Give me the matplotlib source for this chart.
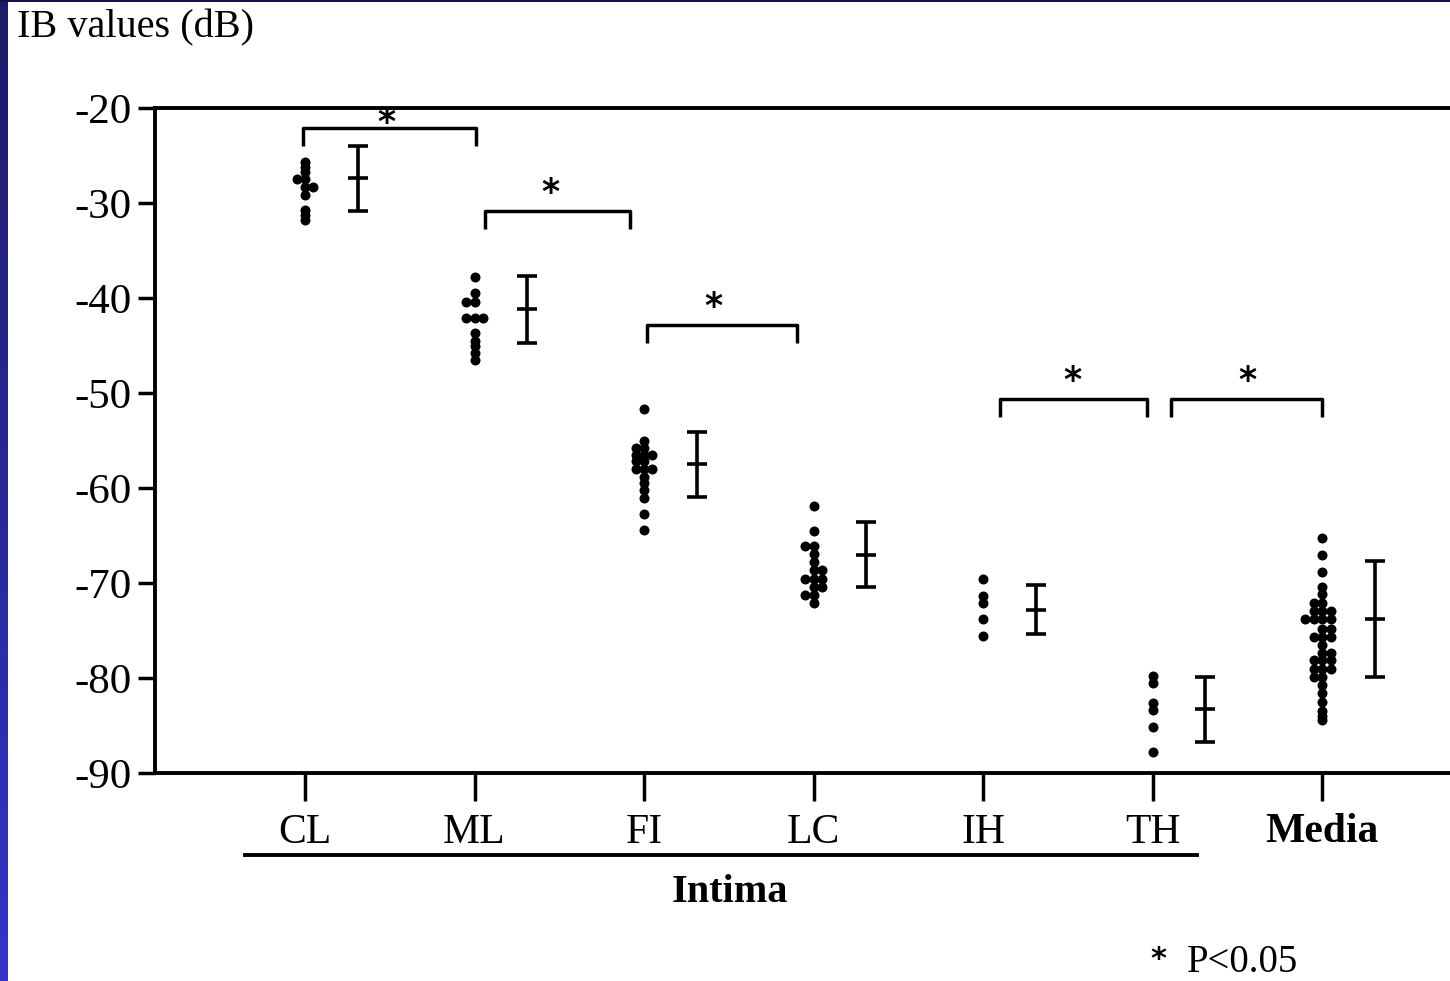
import numpy as np
import matplotlib.pyplot as plt
from matplotlib.colors import LinearSegmentedColormap
from matplotlib.transforms import ScaledTranslation

plt.rcParams['font.family'] = ['Liberation Serif', 'DejaVu Serif']
plt.rcParams['axes.unicode_minus'] = False

# === DATA ===
groups = ["CL", "ML", "FI", "LC", "IH", "TH", "Media"]

cl_vals = [-25.7, -26.2, -26.7, -27.5, -27.5, -28.3, -28.3, -29.2, -30.7, -31.3, -31.8]
ml_vals = [-37.8, -39.5, -40.4, -40.4, -42.1, -42.1, -42.1, -43.7, -44.5, -45.1, -45.8, -46.5]
fi_vals = [-51.7, -55.0, -55.8, -55.8, -56.5, -56.5, -56.5, -57.2, -57.2, -58.0, -58.0, -58.0,
           -58.8, -59.5, -60.2, -61.0, -62.7, -64.4]
lc_vals = [-61.9, -64.5, -66.1, -66.1, -66.9, -67.8, -68.6, -68.6, -69.6, -69.6, -69.6,
           -70.4, -70.4, -71.3, -71.3, -72.1]
ih_vals = [-69.6, -71.4, -72.1, -73.8, -75.6]
th_vals = [-79.8, -80.5, -82.6, -83.4, -85.2, -87.8]
media_vals = [-65.3, -67.0, -68.8, -70.4, -71.2, -72.1, -72.1, -72.9, -72.9, -72.9,
              -73.8, -73.8, -73.8, -73.8, -74.8, -74.8, -75.7, -75.7, -75.7, -76.5,
              -77.4, -77.4, -78.1, -78.1, -78.1, -79.0, -79.0, -79.0, -79.9, -79.9,
              -80.7, -81.6, -82.5, -83.5, -84.0, -84.4]

group_means = [-27.4, -41.2, -57.5, -67.0, -72.8, -83.3, -73.8]
group_sds = [3.4, 3.5, 3.4, 3.4, 2.6, 3.4, 6.1]

# brackets: (left x, right x, bar y, star x, star y)
brackets = [
    (-0.01, 1.01, -22.1, 0.48, -21.6),
    (1.06, 1.92, -30.8, 1.45, -28.9),
    (2.02, 2.90, -42.8, 2.41, -40.9),
    (4.10, 4.97, -50.6, 4.53, -48.7),
    (5.11, 6.00, -50.6, 5.56, -48.7),
]

all_vals = [cl_vals, ml_vals, fi_vals, lc_vals, ih_vals, th_vals, media_vals]


def swarm_offsets(values, step):
    # spread equal values sideways, like a dot plot
    order = [0, -1, 1, -2, 2, -3, 3]
    seen = {}
    flip = 1
    offs = []
    for v in values:
        k = seen.get(v, 0)
        seen[v] = k + 1
        if k == 1:
            flip = -flip
        offs.append(order[k] * -flip * step)
    return np.array(offs)


fig = plt.figure(figsize=(14.5, 9.81), dpi=100)
ax = fig.add_axes([155 / 1450, 208 / 981, 1 - 155 / 1450, 665 / 981])

for i, vals in enumerate(all_vals):
    x = i + swarm_offsets(vals, 0.05)
    ax.plot(x, vals, "o", color="black", ms=7.2, mew=0)

ax.errorbar(np.arange(len(groups)) + 0.31, group_means, yerr=group_sds, fmt="_",
            color="black", ms=14.4, mew=2.6, elinewidth=2.6, capsize=7.2, capthick=2.6)

for x1, x2, yb, xs, ys in brackets:
    ax.plot([x1, x1, x2, x2], [yb - 1.9, yb, yb, yb - 1.9], color="black", lw=2.5,
            clip_on=False, solid_capstyle="butt")
    ax.text(xs, ys, "*", ha="center", va="center", fontsize=25, fontweight="bold",
            family="DejaVu Sans")

ax.set_xlim(-0.885, 6.755)
ax.set_ylim(-90, -20)
ax.set_yticks(range(-90, -19, 10))
ax.set_yticklabels([str(v) for v in range(-90, -19, 10)], fontsize=31)
# labels sit a little above their ticks in the original
shift = ScaledTranslation(0, 4 / 100, fig.dpi_scale_trans)
for lab in ax.get_yticklabels():
    lab.set_transform(lab.get_transform() + shift)
ax.set_xticks(range(len(groups)))
ax.set_xticklabels(groups, fontsize=30)
ax.get_xticklabels()[-1].set_fontweight("bold")

for side in ["left", "top", "bottom"]:
    ax.spines[side].set_linewidth(2.8)
ax.spines["right"].set_visible(False)
ax.tick_params(axis="y", direction="out", length=12, width=2.5, pad=5)
ax.tick_params(axis="x", direction="out", length=20, width=2.5, pad=9)

# Intima underline and label
xt = ax.get_xaxis_transform()
ax.plot([-0.354, 5.263], [-0.1233, -0.1233], color="black", lw=2.8, transform=xt, clip_on=False)
ax.text(2.507, -0.180, "Intima", transform=xt, ha="center", va="center", fontsize=29,
        fontweight="bold")

fig.text(17 / 1450, 1 - 28 / 981, "IB values (dB)", ha="left", va="center", fontsize=29)
fig.text(1158 / 1450, 1 - 960 / 981, "*", ha="center", va="center", fontsize=22,
         fontweight="bold", family="DejaVu Sans")
fig.text(1187 / 1450, 1 - 962 / 981, "P<0.05", ha="left", va="center", fontsize=28)

# slide border: blue strip on the left, dark line on top
grad = np.linspace(0, 1, 256).reshape(-1, 1)
bax = fig.add_axes([0, 0, 8 / 1450, 1])
cmap = LinearSegmentedColormap.from_list("border", ["#1c1c66", "#3434c8"])
bax.imshow(grad, aspect="auto", cmap=cmap)
bax.axis("off")
tax = fig.add_axes([0, 1 - 2 / 981, 1, 2 / 981])
tax.set_facecolor("#14144a")
tax.set_xticks([])
tax.set_yticks([])
for s in tax.spines.values():
    s.set_visible(False)

fig.savefig("out.png", dpi=100)
